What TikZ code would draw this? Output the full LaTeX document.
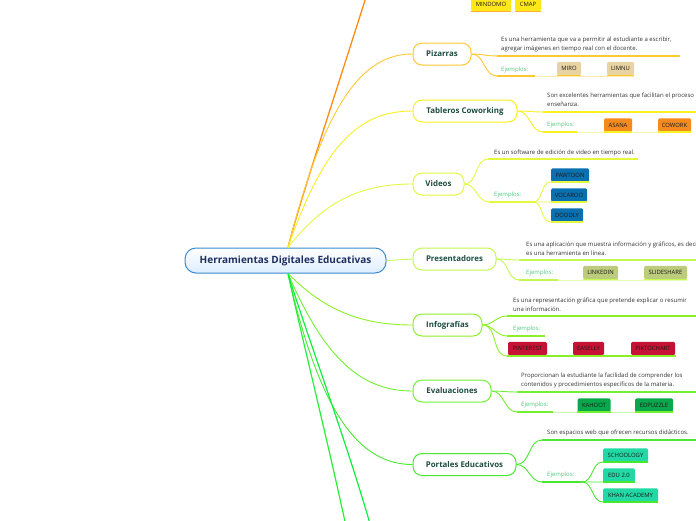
\documentclass[tikz,border=0pt]{standalone}
\usepackage{fontspec}
\setmainfont{Open Sans}
\definecolor{cTop}{HTML}{FF8C10}
\definecolor{cPiz}{HTML}{FFC830}
\definecolor{cTab}{HTML}{F8F020}
\definecolor{cVid}{HTML}{E4F840}
\definecolor{cPre}{HTML}{C4F850}
\definecolor{cInf}{HTML}{8CF028}
\definecolor{cEva}{HTML}{70F030}
\definecolor{cPor}{HTML}{48E830}
\definecolor{cBa}{HTML}{28EE38}
\definecolor{cBb}{HTML}{10EE40}
\definecolor{fMind}{HTML}{FFE81A}
\definecolor{uMind}{HTML}{FFB030}
\definecolor{fPiz}{HTML}{E8D4A2}
\definecolor{fTab}{HTML}{F58A1F}
\definecolor{fVid}{HTML}{0B70B0}
\definecolor{fPre}{HTML}{BCCB7C}
\definecolor{fInf}{HTML}{C81235}
\definecolor{fEva}{HTML}{0AA84C}
\definecolor{fPor}{HTML}{22D8A4}
\definecolor{lbl}{HTML}{1E4D40}
\definecolor{navy}{HTML}{1F2F5F}
\definecolor{dtext}{HTML}{333333}
\definecolor{ejc}{HTML}{4CC97E}
\definecolor{btext}{HTML}{1A1A1A}
\definecolor{cborder}{HTML}{3A8AD0}
\definecolor{cfill}{HTML}{DDEEFF}
\begin{document}
\begin{tikzpicture}[x=1pt,y=-1pt,
  branch/.style={draw, line width=1pt, rounded corners=9pt, fill=white, minimum height=22pt, inner sep=0pt, font=\fontsize{7.9}{9}\selectfont\bfseries, text=lbl},
  desc/.style={inner sep=0pt, anchor=west, align=left, font=\fontsize{6}{9}\selectfont, text=dtext},
  ej/.style={inner sep=0pt, anchor=west, font=\fontsize{6}{7}\selectfont, text=ejc},
  tbox/.style={rounded corners=1.5pt, minimum height=13.5pt, inner sep=0pt, font=\fontsize{5.9}{6.5}\selectfont, text=btext},
  conn/.style={line width=0.9pt},
  uline/.style={line width=1.5pt},
  lite/.style={line width=0.8pt}]
\useasboundingbox (0,0) rectangle (696,520);
\clip (0,0) rectangle (696,520);

% central node
\node[draw=cborder, line width=1pt, rounded corners=11pt, top color=white, bottom color=cfill,
  minimum width=201pt, minimum height=25pt, inner sep=0pt,
  font=\fontsize{10}{11}\selectfont\bfseries, text=navy] (C) at (285.5,260.5) {Herramientas Digitales Educativas};

\coordinate (cn) at ([xshift=2.5pt]C.north);
\coordinate (cs) at ([xshift=2.5pt]C.south);

% branch nodes
\node[branch, draw=cPiz, minimum width=58pt] (P) at (442,54) {Pizarras};
\node[branch, draw=cTab, minimum width=104pt] (T) at (465,111) {Tableros Coworking};
\node[branch, draw=cVid, minimum width=51pt] (V) at (438.5,184) {Videos};
\node[branch, draw=cPre, minimum width=83pt] (Pr) at (454.5,259) {Presentadores};
\node[branch, draw=cInf, minimum width=69pt] (I) at (447.5,325) {Infografías};
\node[branch, draw=cEva, minimum width=78pt] (E) at (452,391) {Evaluaciones};
\node[branch, draw=cPor, minimum width=103pt] (Po) at (464.5,464.5) {Portales Educativos};

% off-picture ends
\coordinate (topend) at (373,-25);
\coordinate (bota) at (350,545);
\coordinate (botb) at (376,545);

% main connectors
\draw[conn, cTop, line width=1.3pt] (cn) .. controls (300,200) and (340,80) .. (topend);
\draw[conn, cPiz] (cn) .. controls (325,103) and (362,54) .. (P.west);
\draw[conn, cTab] (cn) .. controls (325,140) and (362,111) .. (T.west);
\draw[conn, cVid] (cn) .. controls (325,200) and (362,184) .. (V.west);
\draw[conn, cPre] (C.east) -- (Pr.west);
\draw[conn, cInf] (cs) .. controls (325,311) and (362,325) .. (I.west);
\draw[conn, cEva] (cs) .. controls (325,360) and (362,391) .. (E.west);
\draw[conn, cPor] (cs) .. controls (320,415) and (360,464.5) .. (Po.west);
\draw[conn, cBa, line width=1.2pt] (cs) .. controls (300,330) and (330,450) .. (bota);
\draw[conn, cBb, line width=1.2pt] (cs) .. controls (305,330) and (350,450) .. (botb);

% ---------- top (MINDOMO / CMAP)
\node[tbox, fill=fMind, minimum width=40pt] (mindomo) at (491,4.5) {MINDOMO};
\node[tbox, fill=fMind, minimum width=26pt] (cmap) at (528,4.5) {CMAP};
\draw[uline, uMind] (mindomo.south west) -- (mindomo.south east);
\draw[uline, uMind] (cmap.south west) -- (cmap.south east);

% ---------- Pizarras
\coordinate (pd1) at (497,56); \coordinate (pd2) at (680,56);
\coordinate (pe1) at (497,76); \coordinate (pe2) at (535,76); \coordinate (pe3) at (634,76);
\node[desc] (pdesc) at (501,44) {Es una herramienta que va a permitir al estudiante a escribir,\\agregar imágenes en tiempo real con el docente.};
\node[ej] (pej) at (501,69.5) {Ejemplos:};
\node[tbox, fill=fPiz, minimum width=24pt] (miro) at (569,68.5) {MIRO};
\node[tbox, fill=fPiz, minimum width=27pt] (limnu) at (620.5,68.5) {LIMNU};
\draw[conn, cPiz] (P.east) to[out=0,in=180] (pd1);
\draw[conn, cPiz] (P.east) to[out=0,in=180] (pe1);
\draw[uline, cPiz] (pd1) -- (pd2);
\draw[uline, cPiz] (pe1) -- (pe2);
\draw[lite, cPiz!40] (pe2) -- (pe3);
\draw[uline, cPiz] (miro.south west) -- (miro.south east);
\draw[uline, cPiz] (limnu.south west) -- (limnu.south east);

% ---------- Tableros Coworking
\coordinate (td1) at (543,112); \coordinate (td2) at (700,112);
\coordinate (te1) at (543,132); \coordinate (te2) at (577,132); \coordinate (te3) at (691,132);
\node[desc] (tdesc) at (547,100) {Son excelentes herramientas que facilitan el proceso\\enseñanza.};
\node[ej] (tej) at (547,125) {Ejemplos:};
\node[tbox, fill=fTab, minimum width=28pt] (asana) at (618,125) {ASANA};
\node[tbox, fill=fTab, minimum width=33pt] (cowork) at (674.5,125) {COWORK};
\draw[conn, cTab] (T.east) to[out=0,in=180] (td1);
\draw[conn, cTab] (T.east) to[out=0,in=180] (te1);
\draw[uline, cTab] (td1) -- (td2);
\draw[uline, cTab] (te1) -- (te2);
\draw[lite, cTab!40] (te2) -- (te3);
\draw[uline, cTab] (asana.south west) -- (asana.south east);
\draw[uline, cTab] (cowork.south west) -- (cowork.south east);

% ---------- Videos
\coordinate (vd1) at (488,159); \coordinate (vd2) at (638,159);
\coordinate (ve1) at (489,202); \coordinate (ve2) at (533,202);
\node[desc] (vdesc) at (494,152.5) {Es un software de edición de video en tiempo real.};
\node[ej] (vej) at (494,195) {Ejemplos:};
\node[tbox, fill=fVid, minimum width=38pt] (pawtoon) at (570,175) {PAWTOON};
\node[tbox, fill=fVid, minimum width=36pt] (vocaroo) at (569,195) {VOCAROO};
\node[tbox, fill=fVid, minimum width=32pt] (doodly) at (567,215) {DOODLY};
\draw[conn, cVid] (V.east) to[out=0,in=180] (vd1);
\draw[conn, cVid] (V.east) to[out=0,in=180] (ve1);
\draw[uline, cVid] (vd1) -- (vd2);
\draw[uline, cVid] (ve1) -- (ve2);
\draw[conn, cVid] (ve2) to[out=0,in=180] (pawtoon.south west);
\draw[conn, cVid] (ve2) to[out=0,in=180] (vocaroo.south west);
\draw[conn, cVid] (ve2) to[out=0,in=180] (doodly.south west);
\draw[uline, cVid] (pawtoon.south west) -- (pawtoon.south east);
\draw[uline, cVid] (vocaroo.south west) -- (vocaroo.south east);
\draw[uline, cVid] (doodly.south west) -- (doodly.south east);

% ---------- Presentadores
\coordinate (rd1) at (519,260); \coordinate (rd2) at (700,260);
\coordinate (re1) at (519,280); \coordinate (re2) at (558,280); \coordinate (re3) at (687,280);
\node[desc] (rdesc) at (526,249) {Es una aplicación que muestra información y gráficos, es deci\\es una herramienta en línea.};
\node[ej] (rej) at (526,273) {Ejemplos:};
\node[tbox, fill=fPre, minimum width=35pt] (linkedin) at (600.5,272.5) {LINKEDIN};
\node[tbox, fill=fPre, minimum width=43pt] (slideshare) at (665.5,272.5) {SLIDESHARE};
\draw[conn, cPre] (Pr.east) to[out=0,in=180] (rd1);
\draw[conn, cPre] (Pr.east) to[out=0,in=180] (re1);
\draw[uline, cPre] (rd1) -- (rd2);
\draw[uline, cPre] (re1) -- (re2);
\draw[lite, cPre!40] (re2) -- (re3);
\draw[uline, cPre] (linkedin.south west) -- (linkedin.south east);
\draw[uline, cPre] (slideshare.south west) -- (slideshare.south east);

% ---------- Infografias
\coordinate (id1) at (507,316); \coordinate (id2) at (700,316);
\coordinate (ie1) at (507,336); \coordinate (ie2) at (545,336);
\coordinate (ib1) at (507,356); \coordinate (ib2) at (676,356);
\node[desc] (idesc) at (513,305) {Es una representación gráfica que pretende explicar o resumir\\una información.};
\node[ej] (iej) at (513,329) {Ejemplos:};
\node[tbox, fill=fInf, minimum width=39pt] (pinterest) at (527.5,348.5) {PINTEREST};
\node[tbox, fill=fInf, minimum width=31pt] (easelly) at (588.5,348.5) {EASELLY};
\node[tbox, fill=fInf, minimum width=44pt] (piktochart) at (653,348.5) {PIKTOCHART};
\draw[conn, cInf] (I.east) to[out=0,in=180] (id1);
\draw[conn, cInf] (I.east) to[out=0,in=180] (ie1);
\draw[conn, cInf] (I.east) to[out=0,in=180] (ib1);
\draw[uline, cInf] (id1) -- (id2);
\draw[uline, cInf] (ie1) -- (ie2);
\draw[uline, cInf] (ib1) -- (ib2);

% ---------- Evaluaciones
\coordinate (ed1) at (517,392); \coordinate (ed2) at (700,392);
\coordinate (ee1) at (517,412); \coordinate (ee2) at (553,412); \coordinate (ee3) at (673,412);
\node[desc] (edesc) at (521,380.5) {Proporcionan la estudiante la facilidad de comprender los\\contenidos y procedimientos específicos de la materia.};
\node[ej] (eej) at (521,405) {Ejemplos:};
\node[tbox, fill=fEva, minimum width=33pt] (kahoot) at (594,405) {KAHOOT};
\node[tbox, fill=fEva, minimum width=38pt] (edpuzzle) at (654,405) {EDPUZZLE};
\draw[conn, cEva] (E.east) to[out=0,in=180] (ed1);
\draw[conn, cEva] (E.east) to[out=0,in=180] (ee1);
\draw[uline, cEva] (ed1) -- (ed2);
\draw[uline, cEva] (ee1) -- (ee2);
\draw[lite, cEva!40] (ee2) -- (ee3);
\draw[uline, cEva] (kahoot.south west) -- (kahoot.south east);
\draw[uline, cEva] (edpuzzle.south west) -- (edpuzzle.south east);

% ---------- Portales Educativos
\coordinate (od1) at (542,440); \coordinate (od2) at (700,440);
\coordinate (oe1) at (542,482); \coordinate (oe2) at (582,482);
\node[desc] (odesc) at (547,433) {Son espacios web que ofrecen recursos didácticos.};
\node[ej] (oej) at (547,475) {Ejemplos:};
\node[tbox, fill=fPor, minimum width=45pt] (schoology) at (625.5,455) {SCHOOLOGY};
\node[tbox, fill=fPor, minimum width=32pt] (edu) at (619,475) {EDU 2.0};
\node[tbox, fill=fPor, minimum width=55pt] (khan) at (630.5,495) {KHAN ACADEMY};
\draw[conn, cPor] (Po.east) to[out=0,in=180] (od1);
\draw[conn, cPor] (Po.east) to[out=0,in=180] (oe1);
\draw[uline, cPor] (od1) -- (od2);
\draw[uline, cPor] (oe1) -- (oe2);
\draw[conn, cPor] (oe2) to[out=0,in=180] (schoology.south west);
\draw[conn, cPor] (oe2) to[out=0,in=180] (edu.south west);
\draw[conn, cPor] (oe2) to[out=0,in=180] (khan.south west);
\draw[uline, cPor] (schoology.south west) -- (schoology.south east);
\draw[uline, cPor] (edu.south west) -- (edu.south east);
\draw[uline, cPor] (khan.south west) -- (khan.south east);
\end{tikzpicture}
\end{document}
